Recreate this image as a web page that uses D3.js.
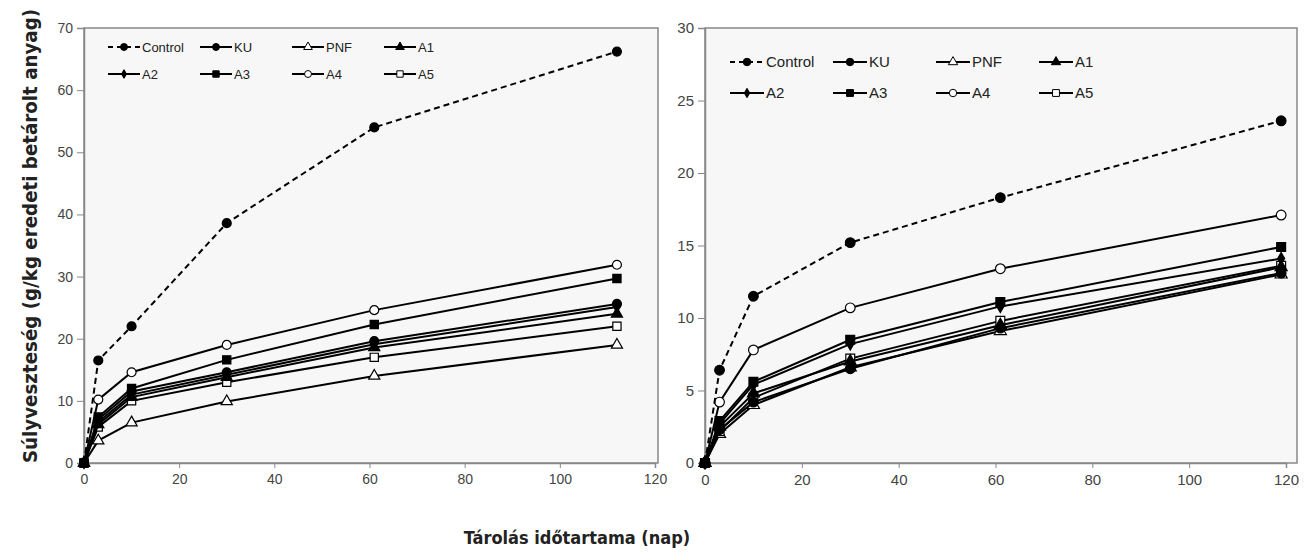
<!DOCTYPE html>
<html>
<head>
<meta charset="utf-8">
<script src="https://cdn.jsdelivr.net/npm/d3@7"></script>
<style>
  body { margin: 0; background: #fff; }
  .tick text { font-family: "Liberation Sans", Arial, sans-serif; fill: #444; }
  .title { font-family: "DejaVu Sans Condensed", "DejaVu Sans", sans-serif; font-weight: bold; fill: #222; }
</style>
</head>
<body>
<div class="canvas"></div>
<script>
// ---- data ----
const seriesNames = ['Control', 'KU', 'PNF', 'A1', 'A2', 'A3', 'A4', 'A5'];
const daysLeft = [0, 3, 10, 30, 61, 112];
const daysRight = [0, 3, 10, 30, 61, 119];

const leftControl = [0, 16.5, 22, 38.6, 54, 66.2];
const leftKU      = [0, 7, 11.5, 14.6, 19.6, 25.6];
const leftPNF     = [0, 3.6, 6.5, 9.9, 14, 19];
const leftA1      = [0, 6.2, 10.6, 13.8, 18.6, 24];
const leftA2      = [0, 6.6, 11, 14.2, 19.1, 25.1];
const leftA3      = [0, 7.4, 12, 16.6, 22.3, 29.7];
const leftA4      = [0, 10.2, 14.6, 19, 24.6, 31.9];
const leftA5      = [0, 5.8, 10, 13, 17, 22];

const rightControl = [0, 6.4, 11.5, 15.2, 18.3, 23.6];
const rightKU      = [0, 2.3, 4.2, 6.5, 9.3, 13.1];
const rightPNF     = [0, 2.0, 4.0, 6.6, 9.1, 13.0];
const rightA1      = [0, 2.5, 4.8, 7.0, 9.5, 13.5];
const rightA2      = [0, 2.7, 5.4, 8.2, 10.8, 14.1];
const rightA3      = [0, 2.9, 5.6, 8.5, 11.1, 14.9];
const rightA4      = [0, 4.2, 7.8, 10.7, 13.4, 17.1];
const rightA5      = [0, 2.2, 4.5, 7.2, 9.8, 13.6];

const xTicks = [0, 20, 40, 60, 80, 100, 120];
const yTicksLeft = [0, 10, 20, 30, 40, 50, 60, 70];
const yTicksRight = [0, 5, 10, 15, 20, 25, 30];

// marker style per series
const markers = {
  Control: { type: d3.symbolCircle, fill: '#000', size: 70 },
  KU:      { type: d3.symbolCircle, fill: '#000', size: 70 },
  PNF:     { type: d3.symbolTriangle, fill: '#fff', size: 60 },
  A1:      { type: d3.symbolTriangle, fill: '#000', size: 60 },
  A2:      { type: d3.symbolDiamond, fill: '#000', size: 40 },
  A3:      { type: d3.symbolSquare, fill: '#000', size: 75 },
  A4:      { type: d3.symbolCircle, fill: '#fff', size: 70 },
  A5:      { type: d3.symbolSquare, fill: '#fff', size: 75 }
};

const svg = d3.select('.canvas').append('svg')
  .attr('width', 1314)
  .attr('height', 556);

function drawPanel(p) {
  const x = d3.scaleLinear().domain([0, 120]).range([p.x0, p.x1]);
  const y = d3.scaleLinear().domain([0, p.yMax]).range([463, 28]);

  const g = svg.append('g');

  // plot background and frame
  g.append('rect')
    .attr('x', x(0)).attr('y', y(p.yMax))
    .attr('width', p.frameRight - x(0)).attr('height', y(0) - y(p.yMax))
    .attr('fill', '#f7f7f7')
    .attr('stroke', '#888').attr('stroke-width', 1.5);

  const xAxis = d3.axisBottom(x).tickValues(xTicks).tickSizeOuter(0).tickSize(5).tickPadding(6);
  const yAxis = d3.axisLeft(y).tickValues(p.yTicks).tickSizeOuter(0).tickSize(7).tickPadding(4);

  const xg = g.append('g').attr('transform', `translate(0, ${y(0)})`).call(xAxis);
  const yg = g.append('g').attr('transform', `translate(${x(0)}, 0)`).call(yAxis);
  [xg, yg].forEach(a => {
    a.select('.domain').attr('stroke', '#888').attr('stroke-width', 1.5);
    a.selectAll('.tick line').attr('stroke', '#888');
    a.selectAll('.tick text').style('font-size', p.tickFont + 'px');
  });

  const line = d3.line().x(d => x(d[0])).y(d => y(d[1]));

  // draw lines from the bottom of the list upward so Control sits on top
  const order = ['PNF', 'A5', 'A1', 'A2', 'KU', 'A3', 'A4', 'Control'];
  order.forEach(name => {
    const pts = p.days.map((d, i) => [d, p.values[name][i]]);
    g.append('path')
      .attr('d', line(pts))
      .attr('fill', 'none')
      .attr('stroke', '#000')
      .attr('stroke-width', 2)
      .attr('stroke-dasharray', name === 'Control' ? '6,4' : null);

    const m = markers[name];
    g.selectAll(null).data(pts).enter().append('path')
      .attr('d', d3.symbol().type(m.type).size(m.size * p.markScale))
      .attr('transform', d => `translate(${x(d[0])}, ${y(d[1])})`)
      .attr('fill', m.fill)
      .attr('stroke', '#000')
      .attr('stroke-width', 1.2);
  });

  // legend
  const lg = g.append('g');
  seriesNames.forEach((name, i) => {
    const col = i % 4;
    const row = Math.floor(i / 4);
    const lx = p.legX + col * p.legDx;
    const ly = p.legY + row * p.legDy;
    lg.append('line')
      .attr('x1', lx).attr('x2', lx + p.legLen)
      .attr('y1', ly).attr('y2', ly)
      .attr('stroke', '#000').attr('stroke-width', 2)
      .attr('stroke-dasharray', name === 'Control' ? '5,4' : null);
    const m = markers[name];
    lg.append('path')
      .attr('d', d3.symbol().type(m.type).size(m.size * p.markScale * 0.6))
      .attr('transform', `translate(${lx + p.legLen / 2}, ${ly})`)
      .attr('fill', m.fill)
      .attr('stroke', '#000')
      .attr('stroke-width', 1);
    lg.append('text')
      .attr('x', lx + p.legLen + 2).attr('y', ly)
      .attr('dy', '0.35em')
      .attr('font-family', '"Liberation Sans", Arial, sans-serif')
      .attr('font-size', p.legFont)
      .attr('fill', '#222')
      .text(name);
  });
}

drawPanel({
  x0: 84, x1: 655, frameRight: 658, yMax: 70, yTicks: yTicksLeft,
  days: daysLeft,
  values: { Control: leftControl, KU: leftKU, PNF: leftPNF, A1: leftA1,
            A2: leftA2, A3: leftA3, A4: leftA4, A5: leftA5 },
  tickFont: 14, markScale: 0.9,
  legX: 108, legY: 47, legDx: 92, legDy: 27, legLen: 32, legFont: 13
});

drawPanel({
  x0: 705, x1: 1286, frameRight: 1297, yMax: 30, yTicks: yTicksRight,
  days: daysRight,
  values: { Control: rightControl, KU: rightKU, PNF: rightPNF, A1: rightA1,
            A2: rightA2, A3: rightA3, A4: rightA4, A5: rightA5 },
  tickFont: 15, markScale: 1.05,
  legX: 730, legY: 62, legDx: 103, legDy: 31, legLen: 34, legFont: 15
});

// axis titles
svg.append('text')
  .attr('class', 'title')
  .attr('transform', 'translate(30, 236) rotate(-90)')
  .attr('text-anchor', 'middle')
  .attr('dy', '0.35em')
  .attr('font-size', 20.3)
  .text('Súlyveszteség (g/kg eredeti betárolt anyag)');

svg.append('text')
  .attr('class', 'title')
  .attr('x', 577).attr('y', 538)
  .attr('text-anchor', 'middle')
  .attr('dy', '0.35em')
  .attr('font-size', 18)
  .text('Tárolás időtartama (nap)');
</script>
</body>
</html>
